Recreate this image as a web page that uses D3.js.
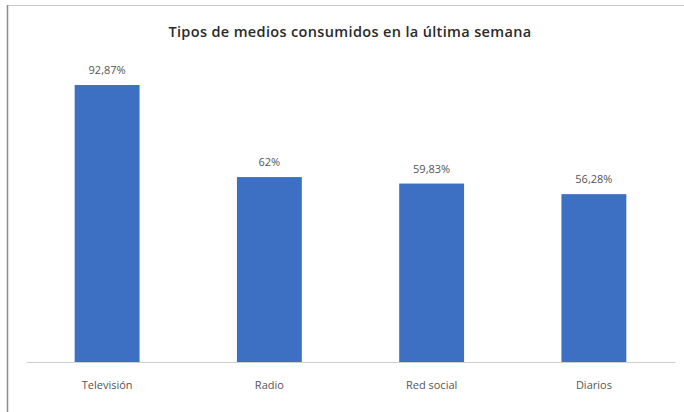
<!DOCTYPE html>
<html>
<head>
<meta charset="utf-8">
<script src="https://cdn.jsdelivr.net/npm/d3@7"></script>
<style>
  html, body { margin: 0; padding: 0; background: #fff; }
  svg { display: block; }
</style>
</head>
<body>
<script>
// Media consumed during the last week (% of respondents)
const categories = ["Televisión", "Radio", "Red social", "Diarios"];
const values = [92.87, 62, 59.83, 56.28];
const valueLabels = ["92,87%", "62%", "59,83%", "56,28%"];
const title = "Tipos de medios consumidos en la última semana";

const W = 684, H = 412;
const margin = { left: 26, right: 9, top: 85, bottom: 50 };

const svg = d3.select("body").append("svg")
  .attr("width", W).attr("height", H);

// chart frame
svg.append("rect")
  .attr("x", 7.5).attr("y", 5.5)
  .attr("width", W + 10).attr("height", H + 10)
  .attr("fill", "#fff")
  .attr("stroke", "#c8c8c8");
svg.append("line")
  .attr("x1", 7.5).attr("x2", 7.5).attr("y1", 5).attr("y2", H)
  .attr("stroke", "#8c8c8c").attr("stroke-width", 1.5);

svg.append("text")
  .attr("x", 350).attr("y", 37)
  .attr("text-anchor", "middle")
  .attr("font-family", "Open Sans, sans-serif")
  .attr("font-size", 14.5)
  .attr("font-weight", 600)
  .attr("letter-spacing", 0.35)
  .attr("fill", "#2a2a2a")
  .text(title);

const x = d3.scaleBand()
  .domain(categories)
  .range([margin.left, W - margin.right])
  .paddingInner(0.6)
  .paddingOuter(0.3);

const y = d3.scaleLinear()
  .domain([0, d3.max(values)])
  .range([H - margin.bottom, margin.top]);

const data = categories.map((c, i) => ({ c, v: values[i], l: valueLabels[i] }));

svg.selectAll("rect.bar").data(data).enter().append("rect")
  .attr("class", "bar")
  .attr("x", d => x(d.c))
  .attr("y", d => y(d.v))
  .attr("width", x.bandwidth())
  .attr("height", d => y(0) - y(d.v))
  .attr("fill", "#3d70c3");

// category axis
const xAxis = svg.append("g")
  .attr("transform", `translate(0,${y(0)})`)
  .call(d3.axisBottom(x).tickSize(0).tickPadding(19));
xAxis.select(".domain").attr("stroke", "#cfcfcf").attr("stroke-width", 1.2);
xAxis.selectAll("text")
  .attr("font-family", "Open Sans, sans-serif")
  .attr("font-size", 11)
  .attr("fill", "#555");

svg.selectAll("text.val").data(data).enter().append("text")
  .attr("class", "val")
  .attr("x", d => x(d.c) + x.bandwidth() / 2)
  .attr("y", d => y(d.v) - 11)
  .attr("text-anchor", "middle")
  .attr("font-family", "Open Sans, sans-serif")
  .attr("font-size", 11)
  .attr("fill", "#555")
  .text(d => d.l);
</script>
</body>
</html>
